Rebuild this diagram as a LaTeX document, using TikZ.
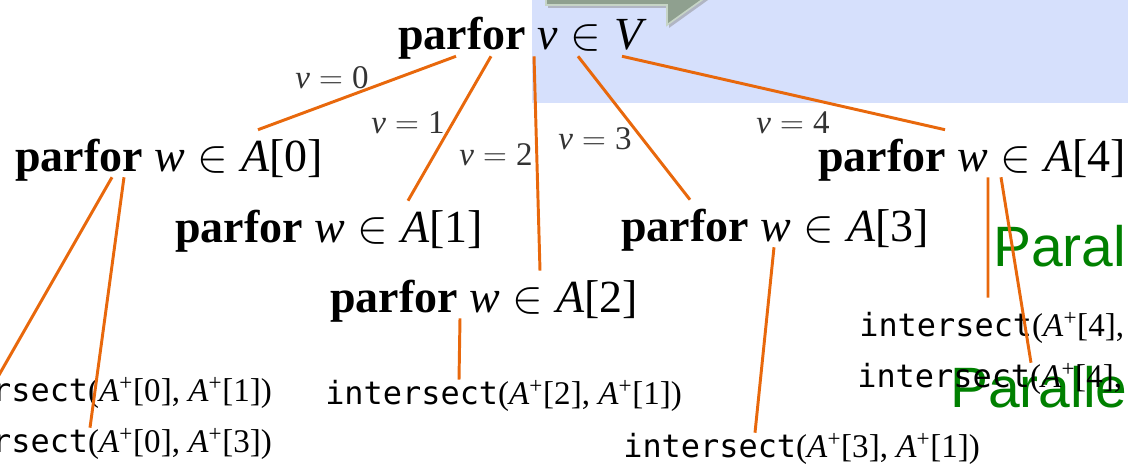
\RequirePackage{fix-cm}
\documentclass[tikz,border=0pt]{standalone}
\usepackage{fontspec}
\setmainfont{Liberation Serif}
\setmonofont{DejaVu Sans Mono}
\newfontfamily\arialfont{Liberation Sans}
\usetikzlibrary{positioning}

\definecolor{bluebg}{RGB}{214,224,252}
\definecolor{arrowfill}{RGB}{143,160,143}
\definecolor{arrowrim}{RGB}{198,212,198}
\definecolor{orangeline}{RGB}{232,104,12}
\definecolor{greentext}{RGB}{0,128,0}

\newcommand{\Aplus}{\textit{A}\textsuperscript{+}}
\newcommand{\inrel}{${}\in{}$}
\newcommand{\argsize}{\fontsize{23.5}{27}\selectfont}

\begin{document}
\begin{tikzpicture}[
    loopnode/.style = {inner sep=0pt, anchor=base west, text height=1.05cm, text depth=0.125cm,
                       font=\fontsize{32.7}{36}\selectfont},
    vlabel/.style = {inner sep=0pt, text=black!80, font=\fontsize{23.5}{27}\selectfont},
    callnode/.style = {inner sep=0pt, anchor=base west, text height=0.625cm, text depth=0.1cm,
                       font=\fontsize{22.7}{26}\selectfont},
    greennote/.style = {inner sep=0pt, anchor=base west, text=greentext,
                        font=\arialfont\fontsize{40.5}{44}\selectfont},
    edge/.style = {draw=orangeline, line width=2.1pt}
]
    \useasboundingbox (0,0) rectangle (28.2,11.7);
    \clip (0,0) rectangle (28.2,11.7);

    % Background box and arrow
    \fill[bluebg] (13.3,9.125) rectangle (28.2,11.7);
    \fill[black!45, opacity=0.5] (13.7,11.5) -- (16.725,11.5) -- (16.725,11.0) -- (18.575,12.325)
        -- (16.725,13.65) -- (13.7,13.65) -- cycle;
    \filldraw[fill=arrowfill, draw=arrowrim, line width=1.2pt]
        (13.65,11.575) -- (16.675,11.575) -- (16.675,11.075) -- (18.525,12.4)
        -- (16.675,13.725) -- (16.675,13.225) -- (13.65,13.225) -- cycle;

    % Green notes
    \node[greennote] (note1) at (24.825,5.025) {Paral};
    \node[greennote] (note2) at (23.75,1.5) {Paralle};

    % Outer loop
    \node[loopnode, text depth=0.15cm] (top) at (9.95,10.45) {\textbf{parfor} \textit{v}\inrel\textit{V}};

    % Inner loops
    \node[loopnode] (a0) at (0.375,7.40) {\textbf{parfor} \textit{w}\inrel\textit{A}[0]};
    \node[loopnode] (a1) at (4.375,5.625) {\textbf{parfor} \textit{w}\inrel\textit{A}[1]};
    \node[loopnode] (a2) at (8.25,3.875) {\textbf{parfor} \textit{w}\inrel\textit{A}[2]};
    \node[loopnode] (a3) at (15.525,5.65) {\textbf{parfor} \textit{w}\inrel\textit{A}[3]};
    \node[loopnode] (a4) at (20.45,7.40) {\textbf{parfor} \textit{w}\inrel\textit{A}[4]};

    % Edge labels
    \node[vlabel] (l0) at (8.3,9.75) {\textit{v}${}={}$0};
    \node[vlabel] (l1) at (10.2,8.625) {\textit{v}${}={}$1};
    \node[vlabel] (l2) at (12.4,7.825) {\textit{v}${}={}$2};
    \node[vlabel] (l3) at (14.875,8.225) {\textit{v}${}={}$3};
    \node[vlabel] (l4) at (19.825,8.625) {\textit{v}${}={}$4};

    % Calls
    \node[callnode] (i01) at (-2.125,1.65) {\texttt{intersect}{\argsize(\Aplus[0], \Aplus[1])}};
    \node[callnode] (i03) at (-2.125,0.375) {\texttt{intersect}{\argsize(\Aplus[0], \Aplus[3])}};
    \node[callnode] (i21) at (8.125,1.575) {\texttt{intersect}{\argsize(\Aplus[2], \Aplus[1])}};
    \node[callnode] (i31) at (15.575,0.25) {\texttt{intersect}{\argsize(\Aplus[3], \Aplus[1])}};
    \node[callnode] (i41) at (21.475,3.275) {\texttt{intersect}{\argsize(\Aplus[4],}};
    \node[callnode] (i42) at (21.425,2.0) {\texttt{intersect}{\argsize(\Aplus[4],}};

    % Outer edges
    \draw[edge] ([xshift=1.45cm]top.south west) -- ([xshift=6.075cm]a0.north west);
    \draw[edge] ([xshift=2.325cm]top.south west) -- ([xshift=5.825cm]a1.north west);
    \draw[edge] ([xshift=3.4cm]top.south west) -- ([xshift=5.25cm]a2.north west);
    \draw[edge] ([xshift=4.5cm]top.south west) -- ([xshift=1.725cm]a3.north west);
    \draw[edge] ([xshift=5.6cm]top.south west) -- ([xshift=3.175cm]a4.north west);

    % Inner edges
    \draw[edge] ([xshift=2.425cm]a0.south west) -- ([xshift=2.075cm]i01.north west);
    \draw[edge] ([xshift=2.725cm]a0.south west) -- ([xshift=4.375cm]i03.north west);
    \draw[edge] ([xshift=3.25cm]a2.south west) -- ([xshift=3.35cm]i21.north west);
    \draw[edge] ([xshift=3.825cm]a3.south west) -- ([xshift=3.3cm]i31.north west);
    \draw[edge] ([xshift=4.25cm]a4.south west) -- ([xshift=3.225cm,yshift=0.35cm]i41.north west);
    \draw[edge] ([xshift=4.575cm]a4.south west) -- ([xshift=4.35cm]i42.north west);

\end{tikzpicture}
\end{document}
